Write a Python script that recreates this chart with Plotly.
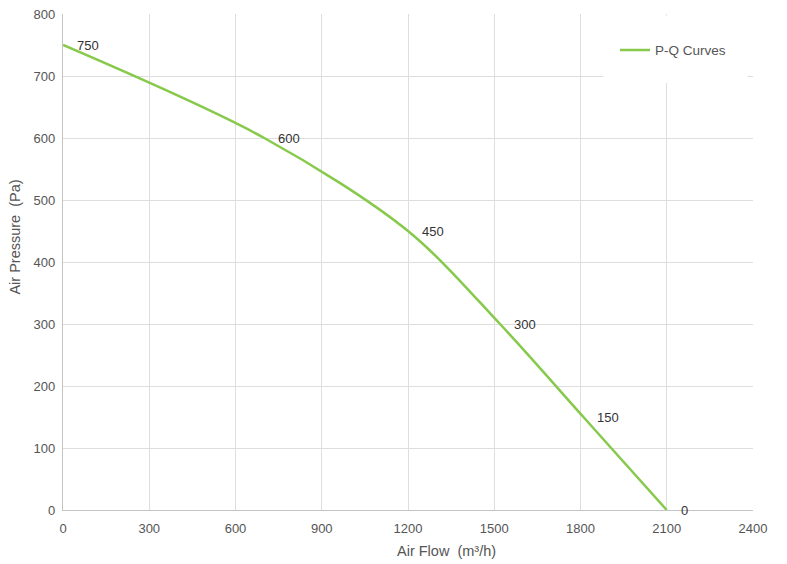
import plotly.graph_objects as go

# P-Q curve
flow = [0, 700, 1200, 1520, 1810, 2100]          # m³/h
pressure = [750, 600, 450, 300, 150, 0]          # Pa
point_labels = ["750", "600", "450", "300", "150", "0"]
x_ticks = [0, 300, 600, 900, 1200, 1500, 1800, 2100, 2400]
y_ticks = [0, 100, 200, 300, 400, 500, 600, 700, 800]

GREEN = "#86c94b"
FONT = "Liberation Sans, Arial, sans-serif"
TICK_COLOR = "#555555"
GRID = "#dedede"

fig = go.Figure()

fig.add_trace(go.Scatter(
    x=flow, y=pressure, name="P-Q Curves",
    mode="lines", line=dict(color=GREEN, width=2.5, shape="spline", smoothing=0.9),
    hoverinfo="x+y",
))

# value labels beside each point
for fx, py, lab in zip(flow, pressure, point_labels):
    fig.add_annotation(x=fx, y=py, text=lab, showarrow=False,
                       xanchor="left", yanchor="middle", xshift=12,
                       font=dict(size=13, color="#333333", family=FONT))

# axis titles (slightly off-centre in the original)
fig.add_annotation(xref="paper", yref="paper", x=0.556, y=-0.083,
                   text="Air Flow  (m³/h)", showarrow=False,
                   xanchor="center", yanchor="middle",
                   font=dict(size=14.5, color=TICK_COLOR, family=FONT))
fig.add_annotation(xref="paper", yref="paper", x=-0.069, y=0.55,
                   text="Air Pressure  (Pa)", showarrow=False, textangle=-90,
                   xanchor="center", yanchor="middle",
                   font=dict(size=14.5, color=TICK_COLOR, family=FONT))

# white box behind the legend (hides the grid there)
fig.add_shape(type="rect", xref="paper", yref="paper",
              x0=0.783, x1=0.992, y0=0.861, y1=0.997,
              fillcolor="white", line=dict(width=0), layer="above")

AXIS = dict(
    showgrid=True, gridcolor=GRID, gridwidth=1,
    showline=True, linecolor="#c4c4c4", linewidth=1.3,
    zeroline=False, ticks="outside", tickcolor="rgba(0,0,0,0)",
    ticklabeloverflow="allow", automargin=False,
    tickfont=dict(size=13, color=TICK_COLOR, family=FONT),
)

fig.update_xaxes(range=[0, 2400], tickvals=x_ticks, ticklen=6, **AXIS)
fig.update_yaxes(range=[0, 800], tickvals=y_ticks, ticklen=4, **AXIS)

fig.update_layout(
    width=779, height=556,
    margin=dict(l=55, r=34, t=6, b=54),
    plot_bgcolor="white", paper_bgcolor="white",
    font=dict(family=FONT, color=TICK_COLOR),
    showlegend=True,
    legend=dict(x=0.80, y=0.958, xanchor="left", yanchor="top",
                bgcolor="rgba(0,0,0,0)", font=dict(size=13.5, color=TICK_COLOR, family=FONT)),
)

fig.write_html("out.html")
